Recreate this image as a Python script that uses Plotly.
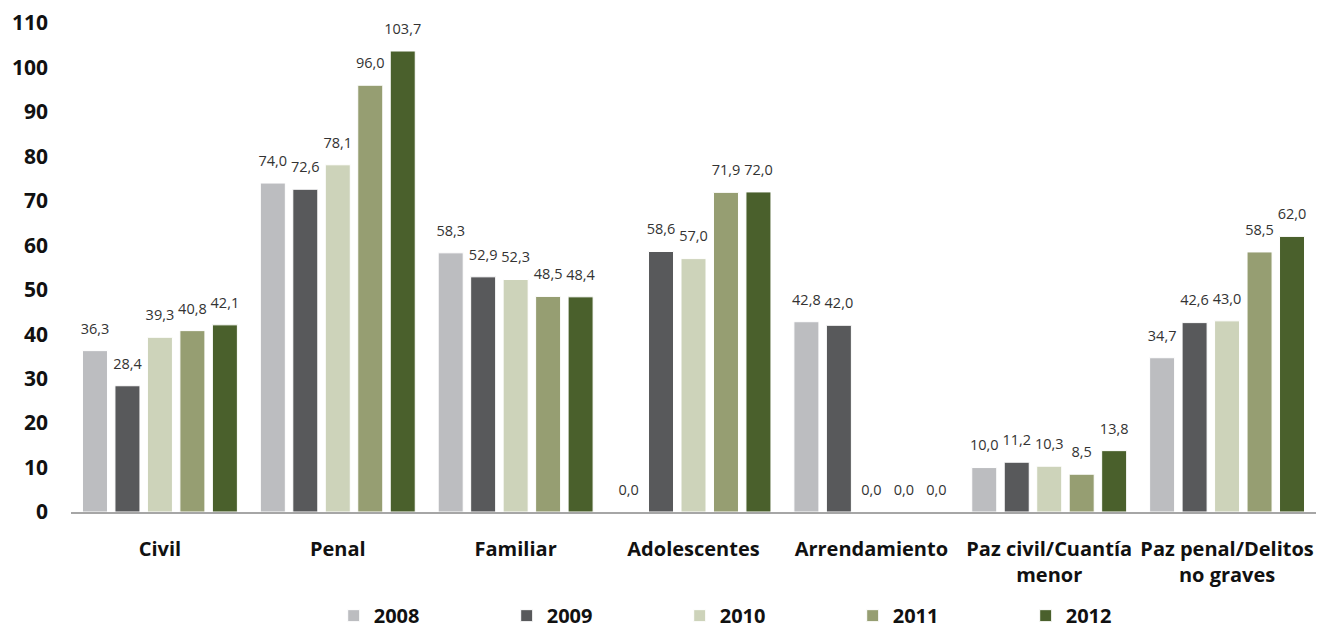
import plotly.graph_objects as go

categories = ["Civil", "Penal", "Familiar", "Adolescentes", "Arrendamiento",
              "Paz civil/Cuantía<br>menor", "Paz penal/Delitos<br>no graves"]
years = ["2008", "2009", "2010", "2011", "2012"]
values = {
    "2008": [36.3, 74.0, 58.3, 0.0, 42.8, 10.0, 34.7],
    "2009": [28.4, 72.6, 52.9, 58.6, 42.0, 11.2, 42.6],
    "2010": [39.3, 78.1, 52.3, 57.0, 0.0, 10.3, 43.0],
    "2011": [40.8, 96.0, 48.5, 71.9, 0.0, 8.5, 58.5],
    "2012": [42.1, 103.7, 48.4, 72.0, 0.0, 13.8, 62.0],
}
colors = {"2008": "#BCBDC0", "2009": "#58595B", "2010": "#CDD3BA",
          "2011": "#969E72", "2012": "#4A602C"}
y_ticks = list(range(0, 111, 10))

fig = go.Figure()
for yr in years:
    fig.add_trace(go.Bar(
        x=categories, y=values[yr], name=yr,
        offsetgroup=yr, alignmentgroup="a",
        marker=dict(color=colors[yr], line=dict(color="white", width=1)),
        hoverinfo="skip",
    ))
for yr in years:
    # value labels, placed above each bar through the grouped axis layout
    fig.add_trace(go.Scatter(
        x=categories, y=values[yr], name=yr + " labels",
        offsetgroup=yr, alignmentgroup="a",
        mode="markers+text", showlegend=False, hoverinfo="skip",
        marker=dict(size=20, color="rgba(0,0,0,0)"),
        texttemplate="%{y:.1f}", textposition="top center",
        textfont=dict(family="Open Sans", size=14.5, color="#333333"),
        cliponaxis=False,
    ))

# the page body adds an 8px margin, so the figure is sized to fit inside it
fig.update_layout(
    width=1316, height=622,
    barmode="group", bargap=0.087, bargroupgap=0.23,
    scattermode="group", scattergap=0.087,
    separators=",.",
    paper_bgcolor="white", plot_bgcolor="white",
    margin=dict(l=63, r=8, t=15, b=118, autoexpand=False),
    font=dict(family="Open Sans", color="#111111"),
    showlegend=True,
    legend=dict(orientation="h", x=0.211, xanchor="left", y=-0.212, yanchor="middle",
                entrywidth=128, entrywidthmode="pixels", borderwidth=0,
                font=dict(family="Open Sans", size=20, color="#111111", weight="bold")),
)
fig.update_xaxes(showline=True, linecolor="#A6A6A6", linewidth=2, automargin=False,
                 tickfont=dict(family="Open Sans", size=20, color="#111111", weight="bold"),
                 ticks="", showgrid=False, ticklabelstandoff=18)
fig.update_yaxes(range=[0, 110], tickvals=y_ticks, showgrid=False, zeroline=False,
                 showline=False, ticks="", ticklabelstandoff=22, automargin=False,
                 tickfont=dict(family="Open Sans", size=21, color="#111111", weight="bold"))

fig.write_html("out.html")
